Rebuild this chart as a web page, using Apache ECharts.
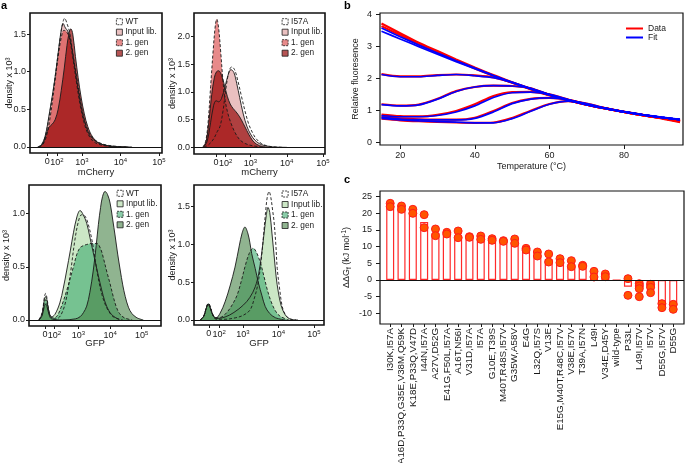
<!DOCTYPE html>
<html><head><meta charset="utf-8">
<script src="https://cdn.jsdelivr.net/npm/echarts@6/dist/echarts.min.js"></script>
<style>html,body{margin:0;padding:0;background:#fff}#c{width:685px;height:463px}</style>
</head><body><div id="c"></div><script>
// ---------- Panel a: density curves [display position (decade units), density x 10^3] ----------
const a1_wt    = [[1.85,0],[1.95,0.03],[2.05,0.15],[2.15,0.42],[2.25,0.74],[2.33,1.04],[2.41,1.36],[2.48,1.6],[2.55,1.71],[2.61,1.64],[2.68,1.52],[2.76,1.25],[2.84,1.0],[2.92,0.74],[3.0,0.5],[3.1,0.3],[3.22,0.16],[3.4,0.07],[3.7,0.02],[4.2,0]];
const a1_input = [[1.85,0],[1.95,0.03],[2.05,0.16],[2.15,0.44],[2.25,0.75],[2.33,1.04],[2.4,1.33],[2.46,1.55],[2.51,1.64],[2.57,1.58],[2.63,1.54],[2.7,1.42],[2.8,1.1],[2.9,0.76],[3.0,0.48],[3.1,0.28],[3.22,0.14],[3.4,0.06],[3.7,0.015],[4.2,0]];
const a1_gen1  = [[1.88,0],[1.98,0.03],[2.08,0.15],[2.18,0.42],[2.28,0.8],[2.38,1.2],[2.46,1.45],[2.53,1.55],[2.6,1.53],[2.67,1.45],[2.75,1.22],[2.85,0.88],[2.95,0.56],[3.05,0.33],[3.15,0.18],[3.3,0.07],[3.55,0.02],[3.9,0]];
const a1_gen2  = [[1.88,0],[1.98,0.04],[2.06,0.15],[2.14,0.26],[2.22,0.3],[2.3,0.36],[2.38,0.5],[2.46,0.75],[2.54,1.05],[2.61,1.35],[2.67,1.53],[2.71,1.57],[2.76,1.5],[2.83,1.2],[2.9,0.92],[2.98,0.65],[3.06,0.44],[3.15,0.27],[3.28,0.13],[3.45,0.05],[3.75,0.01],[4.3,0]];

const a2_wt    = [[1.72,0],[1.85,0.05],[1.98,0.15],[2.08,0.28],[2.16,0.38],[2.24,0.65],[2.32,1.05],[2.4,1.35],[2.48,1.45],[2.56,1.4],[2.65,1.2],[2.75,0.92],[2.85,0.65],[2.95,0.42],[3.05,0.27],[3.15,0.16],[3.3,0.07],[3.5,0.02],[3.9,0]];
const a2_input = [[1.7,0],[1.8,0.1],[1.9,0.45],[1.98,0.75],[2.05,0.84],[2.12,0.82],[2.2,0.88],[2.3,1.1],[2.38,1.3],[2.46,1.4],[2.54,1.35],[2.62,1.15],[2.7,0.9],[2.8,0.6],[2.9,0.38],[3.0,0.24],[3.12,0.13],[3.3,0.05],[3.6,0.01],[4.0,0]];
const a2_gen1  = [[1.68,0],[1.76,0.1],[1.83,0.45],[1.9,1.1],[1.97,1.75],[2.03,2.2],[2.07,2.31],[2.12,2.15],[2.18,1.7],[2.24,1.2],[2.3,0.85],[2.38,0.6],[2.47,0.42],[2.57,0.27],[2.7,0.14],[2.85,0.07],[3.05,0.03],[3.4,0]];
const a2_gen2  = [[1.7,0],[1.78,0.12],[1.85,0.45],[1.93,0.95],[2.0,1.25],[2.06,1.36],[2.12,1.38],[2.2,1.3],[2.28,1.12],[2.36,0.92],[2.44,0.78],[2.52,0.7],[2.6,0.64],[2.7,0.55],[2.8,0.43],[2.9,0.3],[3.0,0.18],[3.1,0.09],[3.25,0.03],[3.5,0]];

const a3_wt    = [[1.75,0],[1.85,0.07],[1.92,0.21],[1.96,0.25],[2.0,0.21],[2.07,0.08],[2.15,0.02],[2.3,0.01],[2.45,0.05],[2.6,0.18],[2.75,0.45],[2.88,0.74],[3.0,0.93],[3.1,0.99],[3.2,0.98],[3.3,0.91],[3.42,0.76],[3.5,0.62],[3.58,0.47],[3.66,0.34],[3.74,0.24],[3.84,0.15],[3.94,0.09],[4.1,0.03],[4.4,0]];
const a3_input = [[1.75,0],[1.85,0.06],[1.92,0.19],[1.96,0.22],[2.0,0.19],[2.07,0.07],[2.15,0.03],[2.25,0.05],[2.41,0.16],[2.52,0.3],[2.63,0.47],[2.74,0.65],[2.84,0.82],[2.95,0.97],[3.05,1.03],[3.15,0.99],[3.26,0.91],[3.36,0.78],[3.47,0.63],[3.58,0.48],[3.68,0.35],[3.78,0.23],[3.89,0.13],[4.05,0.05],[4.3,0]];
const a3_gen1  = [[1.75,0],[1.85,0.05],[1.92,0.17],[1.96,0.19],[2.0,0.16],[2.07,0.06],[2.15,0.02],[2.3,0.03],[2.45,0.12],[2.63,0.28],[2.84,0.5],[2.95,0.62],[3.05,0.68],[3.16,0.7],[3.26,0.71],[3.42,0.72],[3.58,0.72],[3.7,0.67],[3.79,0.58],[3.9,0.45],[4.0,0.34],[4.1,0.22],[4.2,0.12],[4.3,0.06],[4.45,0.02],[4.7,0]];
const a3_gen2  = [[1.75,0],[1.85,0.04],[1.92,0.13],[1.96,0.15],[2.0,0.13],[2.07,0.05],[2.15,0.01],[2.5,0],[2.9,0.01],[3.05,0.03],[3.16,0.07],[3.26,0.13],[3.36,0.26],[3.47,0.47],[3.56,0.7],[3.63,0.9],[3.7,1.06],[3.76,1.16],[3.84,1.21],[3.92,1.18],[4.0,1.1],[4.08,0.95],[4.16,0.79],[4.24,0.62],[4.32,0.47],[4.4,0.33],[4.48,0.22],[4.58,0.12],[4.69,0.06],[4.85,0.02],[5.05,0]];

const a4_wt    = [[1.8,0],[1.9,0.05],[1.98,0.18],[2.03,0.22],[2.08,0.18],[2.16,0.06],[2.25,0.01],[2.5,0.01],[2.8,0.03],[3.0,0.06],[3.2,0.13],[3.32,0.28],[3.43,0.49],[3.52,0.8],[3.58,1.1],[3.64,1.42],[3.69,1.63],[3.74,1.7],[3.79,1.62],[3.84,1.45],[3.88,1.3],[3.93,1.0],[3.97,0.68],[4.04,0.4],[4.11,0.18],[4.2,0.07],[4.35,0.01],[4.6,0]];
const a4_input = [[1.8,0],[1.9,0.05],[1.98,0.17],[2.03,0.21],[2.08,0.17],[2.16,0.06],[2.25,0.02],[2.5,0.04],[2.75,0.1],[3.02,0.2],[3.2,0.3],[3.35,0.44],[3.45,0.62],[3.52,0.84],[3.6,1.15],[3.66,1.38],[3.71,1.49],[3.76,1.42],[3.82,1.15],[3.88,0.86],[3.94,0.57],[4.0,0.37],[4.08,0.19],[4.18,0.08],[4.3,0.02],[4.5,0]];
const a4_gen1  = [[1.8,0],[1.9,0.05],[1.98,0.18],[2.03,0.22],[2.08,0.18],[2.16,0.07],[2.25,0.03],[2.4,0.04],[2.55,0.1],[2.7,0.2],[2.84,0.33],[2.96,0.52],[3.07,0.72],[3.18,0.88],[3.29,0.95],[3.38,0.9],[3.5,0.75],[3.6,0.57],[3.69,0.4],[3.8,0.24],[3.92,0.12],[4.05,0.05],[4.3,0]];
const a4_gen2  = [[1.8,0],[1.9,0.05],[1.98,0.17],[2.03,0.2],[2.08,0.16],[2.16,0.06],[2.25,0.03],[2.36,0.09],[2.5,0.24],[2.64,0.45],[2.78,0.7],[2.9,0.98],[2.98,1.15],[3.06,1.23],[3.14,1.15],[3.2,1.02],[3.25,0.88],[3.35,0.68],[3.44,0.49],[3.54,0.32],[3.63,0.18],[3.75,0.09],[3.92,0.03],[4.2,0]];

// tick labels (x: biexponential display, positions in decade units)
const aTickLabels = ['0','10^2','10^3','10^4','10^5'];
const a1_tickPos = [2.10, 2.35, 3, 4, 5];
const a2_tickPos = [2.05, 2.315, 3, 4, 5];
const a3_tickPos = [1.94, 2.24, 3, 4, 5];
const a4_tickPos = [2.042, 2.335, 3, 4, 5];
const a1_yTicks = [0, 0.5, 1.0, 1.5];
const a2_yTicks = [0, 0.5, 1.0, 1.5, 2.0];
const a3_yTicks = [0, 0.5, 1.0];
const a4_yTicks = [0, 0.5, 1.0, 1.5];

// ---------- Panel b: thermal melts ----------
const T = [15,20,25,30,35,40,45,50,55,60,65,70,75,80,85,90,95];
const dataTop1 = [3.72,3.42,3.12,2.86,2.6,2.35,2.11,1.89,1.68,1.49,1.33,1.19,1.07,0.96,0.86,0.76,0.64];
const dataTop2 = [3.64,3.36,3.07,2.81,2.56,2.32,2.09,1.87,1.67,1.48,1.33,1.19,1.07,0.96,0.87,0.78,0.69];
const data2 = [2.14,2.07,2.07,2.11,2.13,2.1,2.04,1.88,1.68,1.49,1.33,1.19,1.07,0.96,0.86,0.78,0.7];
const data3 = [1.2,1.16,1.19,1.37,1.61,1.74,1.78,1.77,1.7,1.49,1.33,1.19,1.07,0.96,0.86,0.77,0.67];
const data4 = [0.88,0.83,0.82,0.87,0.99,1.2,1.46,1.58,1.59,1.51,1.35,1.19,1.07,0.96,0.86,0.77,0.67];
const data5 = [0.82,0.76,0.73,0.72,0.72,0.78,0.99,1.24,1.37,1.4,1.34,1.2,1.07,0.96,0.86,0.77,0.67];
const data6 = [0.75,0.7,0.67,0.65,0.63,0.62,0.63,0.77,1.0,1.21,1.3,1.22,1.08,0.96,0.86,0.77,0.66];
const fitTop1 = [3.58,3.31,3.05,2.8,2.56,2.33,2.1,1.89,1.69,1.5,1.34,1.2,1.08,0.97,0.88,0.8,0.73];
const fitTop2 = [3.48,3.24,3.0,2.76,2.53,2.31,2.09,1.88,1.68,1.49,1.33,1.19,1.07,0.96,0.87,0.79,0.72];
const fit2 = [2.13,2.06,2.06,2.1,2.13,2.09,2.03,1.88,1.68,1.49,1.33,1.19,1.07,0.96,0.87,0.79,0.72];
const fit3 = [1.19,1.15,1.18,1.36,1.6,1.74,1.78,1.77,1.7,1.5,1.33,1.19,1.07,0.96,0.87,0.79,0.72];
const fit4 = [0.85,0.81,0.81,0.85,0.96,1.15,1.41,1.56,1.58,1.51,1.35,1.19,1.07,0.96,0.87,0.79,0.72];
const fit5 = [0.8,0.74,0.72,0.71,0.71,0.76,0.96,1.22,1.36,1.4,1.34,1.2,1.07,0.96,0.87,0.79,0.72];
const fit6 = [0.76,0.71,0.68,0.66,0.64,0.62,0.62,0.75,0.98,1.2,1.3,1.22,1.08,0.96,0.87,0.79,0.72];
const bXTicks = [20,40,60,80];
const bYTicks = [0,1,2,3,4];

// ---------- Panel c: ddG per variant ----------
const cCategories = ['I30K,I57A','A16D,P33Q,G35E,V38M,Q59K','K18E,P33Q,V47D','I44N,I57A','A27V,D52G','E41G,F50L,I57A','A16T,N56I','V31D,I57A','I57A','G10E,T39S','M40T,R48S,I57V','G35W,A58V','E4G','L32Q,I57S','V13E','E15G,M40T,R48C,I57V','V38E,I57V','T39A,I57N','L49I','V34E,D45Y','wild-type','P33L','L49I,I57V','I57V','D55G,I57V','D55G'];
const cBar = [22.2,21.2,20.2,17.4,14.0,13.8,13.3,12.8,12.4,12.0,11.5,11.3,8.9,7.0,6.2,5.7,4.7,4.2,1.5,1.0,0,-2.0,-2.6,-2.4,-7.3,-7.6];
const cReplicates = [[23.0,22.0],[22.2,21.2],[21.2,20.0],[19.6,15.7],[15.3,13.3],[14.3,13.8],[14.7,12.7],[13.0,12.8],[13.2,12.2],[12.4,11.9],[11.8,11.6],[12.3,11.0],[9.5,9.0],[8.4,7.2],[7.8,5.4],[6.4,5.2],[5.8,4.0],[4.4,4.1],[2.6,0.9],[1.8,1.0],[],[0.4,-4.6],[-1.1,-1.8,-2.6,-5.0],[-1.3,-2.2,-3.8],[-7.1,-8.3],[-7.3,-8.8]];
const cYTicks = [-10,-5,0,5,10,15,20,25];

// ---------- styling ----------
const FF = 'Liberation Sans, Arial, Helvetica, sans-serif';
const INK = '#1a1a1a';
const mcFill = {input:['#dc9696',0.6], gen1:['#d73c3c',0.6], gen2:['#960a0a',0.7]};
const gfpFill = {input:['#aad7a0',0.6], gen1:['#3caa6e',0.6], gen2:['#468246',0.6]};
function blend(hex, a){const n=parseInt(hex.slice(1),16);const r=(n>>16)&255,g=(n>>8)&255,b=n&255;const f=c=>Math.round(c*a+255*(1-a));return `rgb(${f(r)},${f(g)},${f(b)})`;}
function supFmt(pos, labels){return v=>{const i=pos.findIndex(p=>Math.abs(p-v)<1e-6);if(i<0)return '';const s=labels[i];if(s.indexOf('^')<0)return s;const [b,e]=s.split('^');return `{b|${b}}{p|${e}}`;};}

const grids = [
  {left:30, top:13, width:132, height:140},
  {left:194, top:13, width:131, height:141},
  {left:29, top:185, width:132, height:141},
  {left:194, top:185, width:130, height:140},
  {left:380, top:13, width:303, height:132},
  {left:380, top:191, width:304, height:133}
].map((g,i)=>Object.assign(g,{show:true, borderColor:'#111', borderWidth: i<4?1.6:1.2, backgroundColor:'transparent', outerBoundsMode:'none', containLabel:false}));

const noLine = {show:false, onZero:false};
function aX(gi,min,max,pos,name,gap){
  return {type:'value', gridIndex:gi, min, max, name, nameLocation:'middle', nameGap:gap, nameMoveOverlap:false,
    nameTextStyle:{fontSize:9.5, color:INK, fontFamily:FF},
    axisLine:noLine, splitLine:{show:false},
    axisTick:{show:true, length:3, customValues:pos, lineStyle:{color:INK, width:1}},
    axisLabel:{customValues:pos, formatter:supFmt(pos,aTickLabels), hideOverlap:false, fontSize:9, color:INK, fontFamily:FF, margin:4,
      rich:{b:{fontSize:9, color:INK, fontFamily:FF}, p:{fontSize:6, color:INK, fontFamily:FF, padding:[0,0,5,0]}}}};
}
function aY(gi,min,max,ticks,gap){
  return {type:'value', gridIndex:gi, min, max, name:'density x 10³', nameLocation:'middle', nameGap:gap, nameMoveOverlap:false,
    nameTextStyle:{fontSize:9, color:INK, fontFamily:FF},
    axisLine:noLine, splitLine:{show:false},
    axisTick:{show:true, length:3, customValues:ticks, lineStyle:{color:INK}},
    axisLabel:{customValues:ticks, formatter:v=>v.toFixed(1), hideOverlap:false, fontSize:9, color:INK, fontFamily:FF, margin:4}};
}
const xAxes = [
  aX(0,1.649,5.078,a1_tickPos,'mCherry',14.5),
  aX(1,1.441,5.055,a2_tickPos,'mCherry',13.5),
  aX(2,1.434,5.611,a3_tickPos,'GFP',12),
  aX(3,1.625,5.287,a4_tickPos,'GFP',13),
  {type:'value', gridIndex:4, min:14.6, max:95.8, name:'Temperature (°C)', nameLocation:'middle', nameGap:17, nameMoveOverlap:false,
    nameTextStyle:{fontSize:9, color:INK, fontFamily:FF}, axisLine:noLine, splitLine:{show:false},
    axisTick:{show:true,length:4,customValues:bXTicks,lineStyle:{color:INK}},
    axisLabel:{customValues:bXTicks, fontSize:9, color:INK, fontFamily:FF, margin:6}},
  {type:'value', gridIndex:5, min:-0.9, max:25.95, axisLine:noLine, splitLine:{show:false},
    axisTick:{show:true,length:3,customValues:cCategories.map((_,i)=>i),lineStyle:{color:INK}},
    axisLabel:{customValues:cCategories.map((_,i)=>i), formatter:v=>cCategories[Math.round(v)], hideOverlap:false, rotate:90, fontSize:9.8, color:INK, fontFamily:FF, margin:4}}
];
const yAxes = [
  aY(0,-0.08,1.78,a1_yTicks,15.5),
  aY(1,-0.12,2.42,a2_yTicks,17),
  aY(2,-0.057,1.27,a3_yTicks,18),
  aY(3,-0.066,1.786,a4_yTicks,17),
  {type:'value', gridIndex:4, min:-0.072, max:4.05, name:'Relative fluoresence', nameLocation:'middle', nameGap:20, nameMoveOverlap:false,
    nameTextStyle:{fontSize:9, color:INK, fontFamily:FF}, axisLine:noLine, splitLine:{show:false},
    axisTick:{show:true,length:4,customValues:bYTicks,lineStyle:{color:INK}},
    axisLabel:{customValues:bYTicks, fontSize:9, color:INK, fontFamily:FF, margin:8}},
  {type:'value', gridIndex:5, min:-13.2, max:26.7, name:'{a|ΔΔG}{s|f}{a| (kJ mol}{u|-1}{a|)}', nameLocation:'middle', nameGap:27, nameMoveOverlap:false,
    nameTextStyle:{fontSize:9, color:INK, fontFamily:FF, rich:{a:{fontSize:9,color:INK,fontFamily:FF}, s:{fontSize:6.5,color:INK,fontFamily:FF,padding:[4,0,0,0]}, u:{fontSize:6.5,color:INK,fontFamily:FF,padding:[0,0,5,0]}}},
    axisLine:noLine, splitLine:{show:false},
    axisTick:{show:true,length:4,customValues:cYTicks,lineStyle:{color:INK}},
    axisLabel:{customValues:cYTicks, fontSize:9, color:INK, fontFamily:FF, margin:8}}
];

const series = [];
function zeroLine(){return {silent:true, symbol:['none','none'], label:{show:false}, lineStyle:{color:'#111', width:1, type:'solid'}, data:[{yAxis:0}]};}
function panelA(gi, pal, refName, wt, input, gen1, gen2){
  const mk = (name,data,fill,dashed)=>{
    const s = {type:'line', name, data, xAxisIndex:gi, yAxisIndex:gi, smooth:0.35, symbol:'none', silent:true, animation:false,
      color: fill?fill[0]:INK,
      lineStyle:{color:INK, width:0.9, type: dashed?[3,2]:'solid'}};
    if (fill) s.areaStyle = {color:fill[0], opacity:fill[1]};
    return s;
  };
  const sIn = mk('Input lib.', input, pal.input, false);
  sIn.markLine = zeroLine();
  series.push(sIn, mk('1. gen', gen1, pal.gen1, true), mk('2. gen', gen2, pal.gen2, false), mk(refName, wt, null, true));
}
panelA(0, mcFill, 'WT', a1_wt, a1_input, a1_gen1, a1_gen2);
panelA(1, mcFill, 'I57A', a2_wt, a2_input, a2_gen1, a2_gen2);
panelA(2, gfpFill, 'WT', a3_wt, a3_input, a3_gen1, a3_gen2);
panelA(3, gfpFill, 'I57A', a4_wt, a4_input, a4_gen1, a4_gen2);

const toXY = arr => T.map((t,i)=>[t,arr[i]]);
[dataTop1,dataTop2,data2,data3,data4,data5,data6].forEach(d=>series.push({type:'line', name:'Data', data:toXY(d), xAxisIndex:4, yAxisIndex:4, smooth:0.3, symbol:'none', silent:true, color:'#ff0000', lineStyle:{color:'#ff0000', width:2.2}}));
[fitTop1,fitTop2,fit2,fit3,fit4,fit5,fit6].forEach(d=>series.push({type:'line', name:'Fit', data:toXY(d), xAxisIndex:4, yAxisIndex:4, smooth:0.3, symbol:'none', silent:true, color:'#0000ff', lineStyle:{color:'#0000ff', width:1.7}}));

series.push({type:'bar', name:'mean', data:cBar.map((v,i)=>[i,v]), xAxisIndex:5, yAxisIndex:5, barWidth:8, silent:true,
  itemStyle:{color:'#ffffff', borderColor:'#ff2a2a', borderWidth:1.2}, markLine:zeroLine()});
const cPts = [];
cReplicates.forEach((arr,i)=>arr.forEach(v=>cPts.push([i,v])));
series.push({type:'scatter', name:'replicate', data:cPts, xAxisIndex:5, yAxisIndex:5, symbolSize:8, silent:true,
  itemStyle:{color:'#ff5500', borderColor:'#ff1a1a', borderWidth:1, opacity:1}});

function aLegend(left, top, pal, refName){
  return {orient:'vertical', left, top, icon:'rect', itemWidth:6, itemHeight:6, itemGap:0.5, padding:0, selectedMode:false,
    textStyle:{fontSize:8.3, color:INK, fontFamily:FF, lineHeight:10, padding:[0,0,0,-2]},
    data:[
      {name:refName, itemStyle:{color:'#ffffff', borderColor:INK, borderWidth:0.8, borderType:[2,1]}},
      {name:'Input lib.', itemStyle:{color:blend(pal.input[0],pal.input[1]), borderColor:INK, borderWidth:0.8}},
      {name:'1. gen', itemStyle:{color:blend(pal.gen1[0],pal.gen1[1]), borderColor:INK, borderWidth:0.8, borderType:[2,1]}},
      {name:'2. gen', itemStyle:{color:blend(pal.gen2[0],pal.gen2[1]), borderColor:INK, borderWidth:0.8}}
    ]};
}
const legends = [
  aLegend(116, 16.7, mcFill, 'WT'),
  aLegend(281.7, 16.7, mcFill, 'I57A'),
  aLegend(116.7, 188.3, gfpFill, 'WT'),
  aLegend(281.7, 189, gfpFill, 'I57A'),
  {orient:'vertical', left:626, top:24, icon:'rect', itemWidth:17, itemHeight:2, itemGap:0, padding:0, selectedMode:false,
   textStyle:{fontSize:8.5, color:INK, fontFamily:FF, lineHeight:8.5},
   data:[{name:'Data', itemStyle:{color:'#ff0000'}},{name:'Fit', itemStyle:{color:'#0000ff'}}]}
];

const titles = [
  {text:'a', left:1, top:0, padding:0, textStyle:{fontSize:11, fontWeight:'bold', color:'#000', fontFamily:FF}},
  {text:'b', left:344, top:0, padding:0, textStyle:{fontSize:11, fontWeight:'bold', color:'#000', fontFamily:FF}},
  {text:'c', left:344, top:174, padding:0, textStyle:{fontSize:11, fontWeight:'bold', color:'#000', fontFamily:FF}}
];

const chart = echarts.init(document.getElementById('c'), null, {renderer:'canvas', width:685, height:463});
chart.setOption({animation:false, backgroundColor:'#ffffff', textStyle:{fontFamily:FF},
  title:titles, legend:legends, grid:grids, xAxis:xAxes, yAxis:yAxes, series});
</script></body></html>
